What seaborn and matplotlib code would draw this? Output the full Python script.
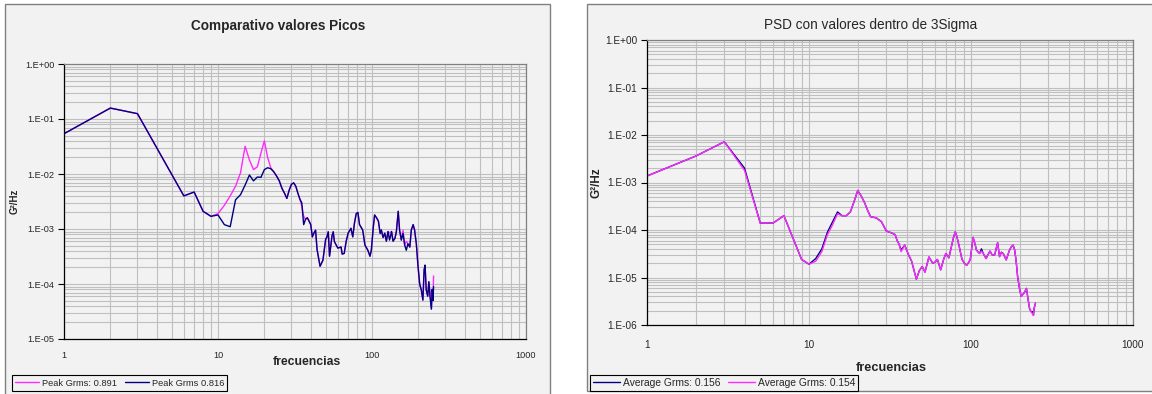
import numpy as np
import pandas as pd
import matplotlib
matplotlib.use("Agg")
import matplotlib.pyplot as plt
import seaborn as sns
from matplotlib.patches import Rectangle
from matplotlib.lines import Line2D
from matplotlib.ticker import FixedLocator, FixedFormatter, LogLocator, NullFormatter

# ---------------- data ----------------
X_TICKS = [1, 10, 100, 1000]
X_LABELS = ["1", "10", "100", "1000"]

L_Y_TICKS = [1e-5, 1e-4, 1e-3, 1e-2, 1e-1, 1e0]
L_Y_LABELS = ["1.E-05", "1.E-04", "1.E-03", "1.E-02", "1.E-01", "1.E+00"]
R_Y_TICKS = [1e-6, 1e-5, 1e-4, 1e-3, 1e-2, 1e-1, 1e0]
R_Y_LABELS = ["1.E-06", "1.E-05", "1.E-04", "1.E-03", "1.E-02", "1.E-01", "1.E+00"]

L_FREQ = [1, 2, 3,
          6, 7, 8, 9, 10, 11, 12, 13, 14, 15, 16, 17, 18, 19, 20, 21, 22, 23, 24, 25,
          26, 27, 28, 29, 30, 31, 32, 33, 34, 35, 36, 37, 38, 39, 40, 41, 42, 43, 44,
          46, 48, 50, 51, 52, 53, 55, 56, 57, 60,
          63, 64, 66, 68, 70, 73, 75, 77, 79, 81,
          83, 87, 90, 94, 97, 99, 102, 104, 107, 110,
          113, 115, 118, 121, 124, 127, 130, 134, 137, 141,
          144, 148, 151, 155, 159, 163, 167, 171, 176, 180,
          185, 189, 194, 199, 204, 209, 214, 218, 221, 225,
          230, 234, 238, 243, 246, 249, 251]

# Peak Grms 0.816 (navy)
L_NAVY = [0.054, 0.158, 0.125,
          0.0040, 0.0047, 0.0021, 0.0017, 0.0018, 0.0012, 0.0011, 0.0034, 0.0042, 0.0063,
          0.0096, 0.0075, 0.0088, 0.0087, 0.0120, 0.0130, 0.0125, 0.0110, 0.0092, 0.0075,
          0.0055, 0.0045, 0.0036, 0.0051, 0.0065, 0.0069, 0.0060, 0.0045, 0.0035, 0.0030,
          0.0012, 0.0015, 0.0016, 0.0014, 0.0012, 0.00072, 0.00085, 0.00095, 0.00042,
          0.00021, 0.00027, 0.00065, 0.00072, 0.00089, 0.00032, 0.00075, 0.00089, 0.00059, 0.00045,
          0.00047, 0.00035, 0.00036, 0.00060, 0.00084, 0.00103, 0.00072, 0.0013, 0.0019, 0.0020,
          0.0012, 0.00096, 0.00051, 0.00041, 0.00032, 0.00041, 0.0011, 0.0018, 0.0016, 0.0014,
          0.00083, 0.00096, 0.00070, 0.00084, 0.00060, 0.00090, 0.00063, 0.00090, 0.00060, 0.00068,
          0.00090, 0.0021, 0.00096, 0.00063, 0.00083, 0.00051, 0.00041, 0.00054, 0.00047, 0.00096,
          0.0012, 0.00096, 0.00054, 0.00021, 0.00010, 0.000078, 0.000051, 0.00018, 0.00022, 0.000078,
          0.000060, 0.00011, 0.000059, 0.000035, 0.000080, 0.000050, 0.000090]

# Peak Grms: 0.891 (magenta)
L_MAG = [0.054, 0.158, 0.125,
         0.0040, 0.0047, 0.0021, 0.0017, 0.0019, 0.0027, 0.0040, 0.0060, 0.0105, 0.032,
         0.018, 0.0120, 0.0135, 0.024, 0.040, 0.020, 0.0130, 0.0110, 0.0092, 0.0075,
         0.0055, 0.0045, 0.0036, 0.0051, 0.0065, 0.0069, 0.0060, 0.0045, 0.0035, 0.0026,
         0.0017, 0.0015, 0.0016, 0.0014, 0.0012, 0.00072, 0.00085, 0.00095, 0.00042,
         0.00021, 0.00027, 0.00065, 0.00072, 0.00089, 0.00032, 0.00075, 0.00089, 0.00059, 0.00045,
         0.00047, 0.00035, 0.00036, 0.00060, 0.00084, 0.00103, 0.00072, 0.0013, 0.0019, 0.0020,
         0.0012, 0.00096, 0.00051, 0.00041, 0.00032, 0.00041, 0.0011, 0.0018, 0.0016, 0.0014,
         0.00083, 0.00096, 0.00070, 0.00084, 0.00060, 0.00090, 0.00085, 0.00090, 0.00060, 0.00068,
         0.00090, 0.0021, 0.00096, 0.00063, 0.00095, 0.00051, 0.00060, 0.00054, 0.00047, 0.00096,
         0.0012, 0.00096, 0.00054, 0.00021, 0.00010, 0.000078, 0.000051, 0.00018, 0.00022, 0.000078,
         0.000060, 0.00011, 0.000070, 0.000035, 0.000080, 0.000050, 0.00014]

R_FREQ = [1, 2, 3, 4, 5, 6, 7, 8, 9, 10, 11, 12, 13, 14, 15, 16, 17, 18, 19, 20, 21, 22, 23, 24,
          26, 28, 30, 32, 34, 35, 36, 37, 39, 41,
          43, 46, 48, 50, 52, 55, 58, 60, 62, 65,
          68, 70, 73, 78, 80, 82, 84, 88, 91, 94,
          97, 99, 103, 106, 108, 111, 113, 116, 119, 124,
          127, 131, 135, 140, 146, 150, 154, 158, 165, 169,
          173, 178, 182, 186, 190, 194, 199, 204, 210, 215,
          220, 225, 230, 235, 240, 243, 245, 250]

# Average Grms: 0.154 (magenta)
R_MAG = [0.00137, 0.0036, 0.0072, 0.0018, 0.00014, 0.00014, 0.00020, 0.000065, 0.000024, 0.000019,
         0.000022, 0.000035, 0.000080, 0.00013, 0.00022, 0.00020, 0.00020, 0.00024, 0.00040, 0.00068,
         0.00052, 0.00038, 0.00026, 0.00019,
         0.00018, 0.00015, 0.000095, 0.000088, 0.000080, 0.000060, 0.000050, 0.000035, 0.000048, 0.000031,
         0.000022, 0.0000092, 0.000014, 0.000017, 0.000013, 0.000027, 0.000020, 0.000021, 0.000024, 0.0000145,
         0.000025, 0.000032, 0.000026, 0.000070, 0.000092, 0.000070, 0.000050, 0.000024, 0.000020, 0.000018,
         0.000021, 0.000024, 0.000070, 0.000050, 0.000038, 0.000034, 0.000032, 0.000036, 0.000032, 0.000025,
         0.000030, 0.000036, 0.000030, 0.000030, 0.000054, 0.0000275, 0.000034, 0.000032, 0.0000235, 0.000030,
         0.000038, 0.000045, 0.000048, 0.000038, 0.000022, 0.0000104, 0.0000060, 0.0000040, 0.0000045, 0.0000050,
         0.0000059, 0.0000035, 0.0000022, 0.0000019, 0.0000017, 0.0000016, 0.0000022, 0.0000029]

# Average Grms: 0.156 (navy)
R_NAVY = [0.00137, 0.0036, 0.0072, 0.0020, 0.00014, 0.00014, 0.00020, 0.000065, 0.000024, 0.000019,
          0.000025, 0.000040, 0.000090, 0.00015, 0.00024, 0.00020, 0.00020, 0.00024, 0.00040, 0.00068,
          0.00052, 0.00038, 0.00026, 0.00019,
          0.00018, 0.00015, 0.000095, 0.000088, 0.000080, 0.000060, 0.000050, 0.000038, 0.000048, 0.000031,
          0.000022, 0.0000092, 0.000014, 0.000017, 0.000013, 0.000027, 0.000020, 0.000021, 0.000024, 0.0000145,
          0.000025, 0.000032, 0.000026, 0.000070, 0.000092, 0.000070, 0.000050, 0.000024, 0.000020, 0.000018,
          0.000021, 0.000024, 0.000070, 0.000050, 0.000038, 0.000034, 0.000032, 0.000040, 0.000032, 0.000025,
          0.000030, 0.000036, 0.000030, 0.000030, 0.000054, 0.0000275, 0.000034, 0.000032, 0.0000235, 0.000030,
          0.000038, 0.000045, 0.000048, 0.000038, 0.000022, 0.0000104, 0.0000060, 0.0000040, 0.0000045, 0.0000050,
          0.0000059, 0.0000035, 0.0000022, 0.0000019, 0.0000019, 0.0000016, 0.0000022, 0.0000029]

# ---------------- style ----------------
sns.set_style("white")
plt.rcParams["font.family"] = ["Liberation Sans", "DejaVu Sans"]

MAGENTA = "#ff2aff"
NAVY = "#000080"
PANEL = "#f2f2f2"
GRID = "#bfbfbf"

W, H = 1152, 394
fig = plt.figure(figsize=(W / 100, H / 100), dpi=100)
fig.patch.set_facecolor("white")


def add_panel(x0, y0, x1, y1):
    fig.patches.append(Rectangle((x0 / W, 1 - y1 / H), (x1 - x0) / W, (y1 - y0) / H,
                                 transform=fig.transFigure, facecolor=PANEL,
                                 edgecolor="#808080", lw=1.0, zorder=-10))


def make_axes(x0, y0, x1, y1):
    ax = fig.add_axes([x0 / W, 1 - y1 / H, (x1 - x0) / W, (y1 - y0) / H])
    ax.set_zorder(1)
    return ax


def style_axes(ax, yticks, ylabels, fs, xpad):
    ax.set_xscale("log")
    ax.set_yscale("log")
    ax.set_xlim(1, 1000)
    ax.set_ylim(yticks[0], yticks[-1])
    ax.set_facecolor(PANEL)
    ax.xaxis.set_major_locator(FixedLocator(X_TICKS))
    ax.xaxis.set_major_formatter(FixedFormatter(X_LABELS))
    ax.xaxis.set_minor_locator(LogLocator(base=10, subs=np.arange(2, 10)))
    ax.xaxis.set_minor_formatter(NullFormatter())
    ax.yaxis.set_major_locator(FixedLocator(yticks))
    ax.yaxis.set_major_formatter(FixedFormatter(ylabels))
    ax.yaxis.set_minor_locator(LogLocator(base=10, subs=np.arange(2, 10), numticks=20))
    ax.yaxis.set_minor_formatter(NullFormatter())
    ax.grid(True, which="both", color=GRID, lw=0.8)
    ax.set_axisbelow(True)
    ax.tick_params(axis="y", which="major", direction="out", length=4, width=0.8,
                   color="black", pad=3, labelsize=fs, left=True)
    ax.tick_params(axis="x", which="major", length=0, pad=xpad, labelsize=fs, bottom=True)
    ax.tick_params(which="minor", length=0)
    for side in ["left", "bottom"]:
        ax.spines[side].set_color("black")
        ax.spines[side].set_linewidth(0.9)
    for side in ["top", "right"]:
        ax.spines[side].set_color("#808080")
        ax.spines[side].set_linewidth(0.9)


# ---------------- left chart ----------------
add_panel(5, 4, 550, 400)
axL = make_axes(64, 64, 526, 339)
style_axes(axL, L_Y_TICKS, L_Y_LABELS, 6.6, 9)
sns.lineplot(x=L_FREQ, y=L_MAG, ax=axL, color=MAGENTA, lw=1.0, estimator=None, sort=False)
sns.lineplot(x=L_FREQ, y=L_NAVY, ax=axL, color=NAVY, lw=1.0, estimator=None, sort=False)
axL.set_xlabel("frecuencias", fontsize=8.8, fontweight="bold")
axL.xaxis.label.set_va("center")
axL.xaxis.set_label_coords((307 - 64) / 462, -(362 - 339) / 275)
axL.set_ylabel("G²/Hz", fontsize=7, fontweight="bold")
axL.yaxis.label.set_va("center")
axL.yaxis.set_label_coords((15 - 64) / 462, 0.5)
fig.text(278 / W, 1 - 26 / H, "Comparativo valores Picos", ha="center", va="center",
         fontsize=9.8, fontweight="bold")
legL = fig.legend(handles=[Line2D([], [], color=MAGENTA, lw=1.0),
                           Line2D([], [], color=NAVY, lw=1.0)],
                  labels=["Peak Grms: 0.891", "Peak Grms 0.816"],
                  loc="lower left", bbox_to_anchor=(12 / W, 1 - 391 / H), borderaxespad=0,
                  ncol=2, fontsize=6.7, frameon=True, fancybox=False, framealpha=1,
                  edgecolor="black", facecolor=PANEL, handlelength=2.6, handletextpad=0.3,
                  columnspacing=0.8, borderpad=0.35)
legL.get_frame().set_linewidth(0.8)

# ---------------- right chart ----------------
add_panel(587, 4, 1160, 391)
axR = make_axes(647, 40, 1133, 325)
style_axes(axR, R_Y_TICKS, R_Y_LABELS, 7.2, 11)
sns.lineplot(x=R_FREQ, y=R_NAVY, ax=axR, color=NAVY, lw=1.0, estimator=None, sort=False)
sns.lineplot(x=R_FREQ, y=R_MAG, ax=axR, color=MAGENTA, lw=1.0, estimator=None, sort=False)
axR.set_xlabel("frecuencias", fontsize=9.2, fontweight="bold")
axR.xaxis.label.set_va("center")
axR.xaxis.set_label_coords((891 - 647) / 486, -(368 - 325) / 285)
axR.set_ylabel("G²/Hz", fontsize=8.5, fontweight="bold")
axR.yaxis.label.set_va("center")
axR.yaxis.set_label_coords((597 - 647) / 486, 0.5)
fig.text(871 / W, 1 - 25 / H, "PSD con valores dentro de 3Sigma", ha="center", va="center",
         fontsize=9.8)
legR = fig.legend(handles=[Line2D([], [], color=NAVY, lw=1.0),
                           Line2D([], [], color=MAGENTA, lw=1.0)],
                  labels=["Average Grms: 0.156", "Average Grms: 0.154"],
                  loc="lower left", bbox_to_anchor=(590 / W, 1 - 391 / H), borderaxespad=0,
                  ncol=2, fontsize=7.35, frameon=True, fancybox=False, framealpha=1,
                  edgecolor="black", facecolor=PANEL, handlelength=2.6, handletextpad=0.3,
                  columnspacing=0.8, borderpad=0.3)
legR.get_frame().set_linewidth(0.8)
legR.set_zorder(5)
legL.set_zorder(5)

fig.savefig("out.png", dpi=100, facecolor=fig.get_facecolor())
